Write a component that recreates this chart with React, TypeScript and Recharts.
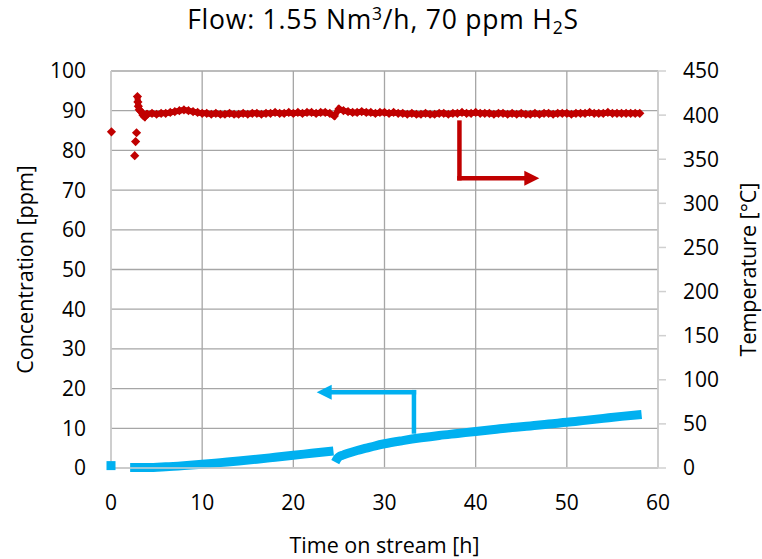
import React from "react";
import {
  CartesianGrid,
  ComposedChart,
  Label,
  Line,
  ReferenceLine,
  Scatter,
  XAxis,
  YAxis
} from "recharts";

const FONT = "'Open Sans', Lato, sans-serif";
const BLUE = "#00b0f0";
const RED = "#c00000";

const timeTicks = [0, 10, 20, 30, 40, 50, 60];
const concTicks = [0, 10, 20, 30, 40, 50, 60, 70, 80, 90, 100];
const tempTicks = [0, 50, 100, 150, 200, 250, 300, 350, 400, 450];

// H2S outlet concentration [ppm]
const concFirstTime = [0];
const concFirstValue = [0.6];
const concTime = [
  2.1, 4, 6, 8, 10, 12, 14, 16, 18, 20, 22, 24.4,
  24.5,
  24.6, 24.8, 25, 25.5, 26, 27, 28, 29, 30, 32, 34, 36, 38, 40, 42, 44, 46, 48, 50, 52, 54, 56, 58.2
];
const concValue: (number | null)[] = [
  0.1, 0.1, 0.3, 0.6, 0.95, 1.35, 1.75, 2.2, 2.7, 3.2, 3.7, 4.3,
  null,
  1.5, 2.3, 2.8, 3.3, 3.7, 4.4, 5.0, 5.6, 6.1, 6.9, 7.6, 8.2, 8.7, 9.2, 9.7, 10.2, 10.6, 11.1, 11.5, 12.0, 12.5, 13.0, 13.5
];

// bed temperature [°C]
const tempTime = [
  0.05, 2.6, 2.7, 2.8, 2.9, 2.95, 3.0, 3.1, 3.3, 3.5, 3.7, 3.9,
  4, 4.5, 5, 5.5, 6, 6.5, 7, 7.5, 8, 8.5, 9, 9.5,
  10, 10.5, 11, 11.5, 12, 12.5, 13, 13.5, 14, 14.5, 15, 15.5,
  16, 16.5, 17, 17.5, 18, 18.5, 19, 19.5, 20, 20.5, 21, 21.5,
  22, 22.5, 23, 23.5, 24, 24.5, 25, 25.5, 26, 26.5, 27, 27.5,
  28, 28.5, 29, 29.5, 30, 30.5, 31, 31.5, 32, 32.5, 33, 33.5,
  34, 34.5, 35, 35.5, 36, 36.5, 37, 37.5, 38, 38.5, 39, 39.5,
  40, 40.5, 41, 41.5, 42, 42.5, 43, 43.5, 44, 44.5, 45, 45.5,
  46, 46.5, 47, 47.5, 48, 48.5, 49, 49.5, 50, 50.5, 51, 51.5,
  52, 52.5, 53, 53.5, 54, 54.5, 55, 55.5, 56, 56.5, 57, 57.5, 58
];
const tempValue = [
  381, 354, 370, 380, 421, 415, 410, 406, 404, 400, 398, 401,
  401, 402, 401, 402, 402, 403, 404, 405, 406, 405, 404, 403,
  402, 402, 401, 402, 401, 401, 402, 401, 401, 402, 401, 402,
  402, 401, 402, 402, 403, 402, 402, 403, 402, 403, 402, 403,
  403, 402, 403, 403, 402, 399, 407, 405, 404, 403, 403, 404,
  403, 403, 402, 403, 403, 402, 403, 402, 402, 401, 402, 401,
  401, 402, 401, 401, 402, 402, 401, 402, 402, 403, 402, 402,
  403, 402, 402, 402, 401, 402, 402, 401, 402, 401, 402, 401,
  401, 402, 401, 402, 402, 401, 402, 402, 402, 401, 402, 402,
  402, 403, 402, 402, 402, 403, 402, 402, 402, 402, 402, 402, 402
];

const concFirst = concFirstTime.map((t, i) => ({ t, c: concFirstValue[i] }));
const concData = concTime.map((t, i) => ({ t, c: concValue[i] }));
const tempData = tempTime.map((t, i) => ({ t, temp: tempValue[i] }));
// the dense logging after start-up reads as a continuous band
const tempBand = tempData.filter((d) => d.t >= 2.9);

const Diamond = (props: any) => {
  const { cx, cy } = props;
  const r = 4.6;
  return (
    <polygon
      points={`${cx},${cy - r} ${cx + r},${cy} ${cx},${cy + r} ${cx - r},${cy}`}
      fill={RED}
    />
  );
};

const Square = (props: any) => {
  const { cx, cy } = props;
  return <rect x={cx - 4.5} y={cy - 4.5} width={9} height={9} fill={BLUE} />;
};

// L-shaped annotation arrows: plain leg, and leg ending in an arrowhead
const arrowLeg = (color: string, head: boolean) => (props: any) => {
  const { x1, y1, x2, y2 } = props;
  const len = Math.hypot(x2 - x1, y2 - y1) || 1;
  const ux = (x2 - x1) / len;
  const uy = (y2 - y1) / len;
  const hl = head ? 15 : 0;
  const hw = 7.5;
  const bx = x2 - ux * hl;
  const by = y2 - uy * hl;
  return (
    <g>
      <line
        x1={x1}
        y1={y1}
        x2={head ? bx : x2}
        y2={head ? by : y2}
        stroke={color}
        strokeWidth={4.5}
        strokeLinecap="square"
      />
      {head && (
        <polygon
          points={`${x2},${y2} ${bx - uy * hw},${by + ux * hw} ${bx + uy * hw},${by - ux * hw}`}
          fill={color}
        />
      )}
    </g>
  );
};

const tickStyle = { fontFamily: FONT, fontSize: 21, fill: "#000" };
const titleStyle = { fontFamily: FONT, fontSize: 21.5, fill: "#000" };

export default function App() {
  return (
    <div style={{ position: "absolute", left: 0, top: 0, width: 762, height: 559, background: "#fff" }}>
      <svg width={762} height={40} style={{ position: "absolute", left: 0, top: 0 }}>
        <text
          x={383}
          y={28.5}
          textAnchor="middle"
          fontFamily={FONT}
          fontSize={26.5}
          letterSpacing={0.8}
          fill="#000"
        >
          Flow: 1.55 Nm
          <tspan fontSize={17.5} dy={-9}>3</tspan>
          <tspan dy={9}>/h, 70 ppm H</tspan>
          <tspan fontSize={17.5} dy={5}>2</tspan>
          <tspan dy={-5}>S</tspan>
        </text>
      </svg>
      <ComposedChart width={762} height={559} margin={{ top: 71, right: 0, bottom: 0, left: 0 }}>
        <CartesianGrid
          yAxisId="left"
          stroke="#a6a6a6"
          strokeWidth={1.3}
          horizontalValues={concTicks}
          verticalValues={timeTicks}
        />
        <XAxis
          dataKey="t"
          type="number"
          domain={[0, 60]}
          ticks={timeTicks}
          height={91}
          stroke="#d0d0d0"
          strokeWidth={1.5}
          tickLine={false}
          tickSize={0}
          tickMargin={27}
          tick={tickStyle}
        >
          <Label value="Time on stream [h]" position="insideBottom" offset={6} style={titleStyle} />
        </XAxis>
        <YAxis
          yAxisId="left"
          type="number"
          domain={[0, 100]}
          ticks={concTicks}
          width={111}
          stroke="#d0d0d0"
          strokeWidth={1.5}
          tickLine={false}
          tickSize={0}
          tickMargin={25}
          tick={tickStyle}
        >
          <Label
            value="Concentration [ppm]"
            angle={-90}
            position="insideLeft"
            offset={25}
            style={{ ...titleStyle, textAnchor: "middle" }}
          />
        </YAxis>
        <YAxis
          yAxisId="right"
          orientation="right"
          type="number"
          domain={[0, 450]}
          ticks={tempTicks}
          width={104}
          stroke="#d0d0d0"
          strokeWidth={1.5}
          tickSize={8}
          tickMargin={17}
          tick={{ ...tickStyle, textAnchor: "start" }}
        >
          <Label
            value="Temperature [°C]"
            angle={-90}
            position="insideRight"
            offset={14}
            style={{ ...titleStyle, textAnchor: "middle" }}
          />
        </YAxis>

        <Line
          yAxisId="right"
          data={tempBand}
          dataKey="temp"
          type="linear"
          stroke={RED}
          strokeWidth={6}
          dot={false}
          activeDot={false}
          isAnimationActive={false}
        />
        <Scatter
          yAxisId="right"
          data={tempData}
          dataKey="temp"
          shape={<Diamond />}
          isAnimationActive={false}
        />
        <Line
          yAxisId="left"
          data={concData}
          dataKey="c"
          type="monotone"
          stroke={BLUE}
          strokeWidth={9}
          dot={false}
          activeDot={false}
          connectNulls={false}
          isAnimationActive={false}
        />
        <Scatter
          yAxisId="left"
          data={concFirst}
          dataKey="c"
          shape={<Square />}
          isAnimationActive={false}
        />

        <ReferenceLine
          yAxisId="left"
          segment={[{ x: 33.23, y: 9.2 }, { x: 33.23, y: 19.1 }]}
          shape={arrowLeg(BLUE, false)}
        />
        <ReferenceLine
          yAxisId="left"
          segment={[{ x: 33.23, y: 19.1 }, { x: 22.56, y: 19.1 }]}
          shape={arrowLeg(BLUE, true)}
        />
        <ReferenceLine
          yAxisId="left"
          segment={[{ x: 38.22, y: 87.0 }, { x: 38.22, y: 73.0 }]}
          shape={arrowLeg(RED, false)}
        />
        <ReferenceLine
          yAxisId="left"
          segment={[{ x: 38.22, y: 73.0 }, { x: 46.98, y: 73.0 }]}
          shape={arrowLeg(RED, true)}
        />
      </ComposedChart>
    </div>
  );
}
